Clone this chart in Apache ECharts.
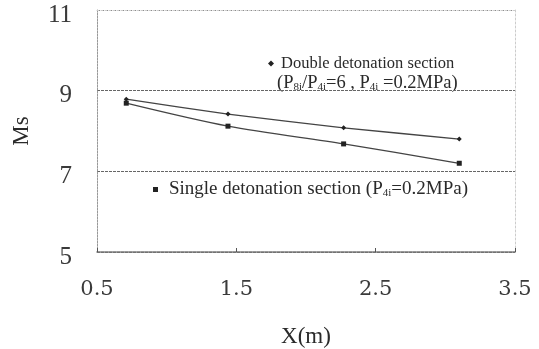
<!DOCTYPE html>
<html>
<head>
<meta charset="utf-8">
<script src="https://cdn.jsdelivr.net/npm/echarts@6/dist/echarts.min.js"></script>
<style>html,body{margin:0;padding:0;background:#fff}#c{width:539px;height:349px}</style>
</head>
<body>
<div id="c"></div>
<script>
const xValues = [0.71, 1.44, 2.27, 3.1];
const doubleMs = [8.79, 8.42, 8.08, 7.80];
const singleMs = [8.69, 8.12, 7.68, 7.20];
const xTicks = [0.5, 1.5, 2.5, 3.5];
const yTicks = [5, 7, 9, 11];
const doubleName = 'Double detonation section';
const singleName = 'Single detonation section (P4i=0.2MPa)';

const serif = 'Liberation Serif';
const txt = '#2a2a2a';
const subStyle = { fontSize: 11, fontFamily: serif, color: txt, verticalAlign: 'bottom', padding: [7, 0, 0, 0] };

const chart = echarts.init(document.getElementById('c'));
chart.setOption({
  animation: false,
  backgroundColor: '#fff',
  grid: { left: 97, right: 24, top: 10, bottom: 97, containLabel: false, outerBoundsMode: 'none' },
  xAxis: [{
    type: 'value', min: xTicks[0], max: xTicks[xTicks.length - 1], interval: 1,
    name: 'X(m)', nameLocation: 'middle', nameGap: 73,
    nameTextStyle: { fontFamily: serif, fontSize: 23, color: txt },
    axisLine: { show: true, lineStyle: { color: '#777', type: [3, 1], width: 1.5 } },
    axisTick: { show: true, inside: true, length: 4, lineStyle: { color: '#555' } },
    axisLabel: { margin: 27, fontFamily: 'DejaVu Serif', fontSize: 21, color: '#3a3a3a',
      formatter: v => v.toFixed(1) },
    splitLine: { show: false }
  }, {
    type: 'value', position: 'top', min: xTicks[0], max: xTicks[xTicks.length - 1], interval: 1,
    axisLine: { show: true, lineStyle: { color: '#ccc', type: [2, 2] } },
    axisTick: { show: false }, axisLabel: { show: false }, splitLine: { show: false }
  }],
  yAxis: [{
    type: 'value', min: yTicks[0], max: yTicks[yTicks.length - 1], interval: 2,
    name: 'Ms', nameLocation: 'middle', nameGap: 64, nameRotate: 90,
    nameTextStyle: { fontFamily: serif, fontSize: 23, color: txt },
    axisLine: { show: true, lineStyle: { color: '#999', type: [2, 1] } },
    axisTick: { show: false },
    axisLabel: { margin: 25, formatter: v => '{a|' + v + '}',
      rich: { a: { fontFamily: serif, fontSize: 25, color: '#3a3a3a', padding: [10, 0, 0, 0] } } },
    splitLine: { show: true, lineStyle: { color: '#666', type: [3, 1], width: 1 } }
  }, {
    type: 'value', position: 'right', min: yTicks[0], max: yTicks[yTicks.length - 1], interval: 2,
    axisLine: { show: true, lineStyle: { color: '#ccc', type: [2, 2] } },
    axisTick: { show: false }, axisLabel: { show: false }, splitLine: { show: false }
  }],
  legend: [{
    data: [doubleName], left: 268, top: 55, padding: 0,
    itemWidth: 6, itemHeight: 6, icon: 'diamond',
    textStyle: { fontFamily: serif, fontSize: 16.5, color: txt, padding: [0, 0, 0, 2] }
  }, {
    data: [singleName], left: 153, top: 180, padding: 0,
    itemWidth: 5, itemHeight: 5, icon: 'rect',
    formatter: () => 'Single detonation section (P{sub|4i}=0.2MPa)',
    textStyle: { fontFamily: serif, fontSize: 19, color: txt, padding: [0, 0, 0, 6], rich: { sub: subStyle } }
  }],
  graphic: [{
    type: 'text', left: 277, top: 74,
    style: {
      text: '(P{sub|8i}/P{sub|4i}=6 , P{sub|4i} =0.2MPa)',
      fontFamily: serif, fontSize: 18.5, fill: txt,
      rich: { sub: { fontSize: 11, fontFamily: serif, fill: txt, verticalAlign: 'bottom', padding: [7, 0, 0, 0] } }
    }
  }],
  series: [{
    name: doubleName, type: 'line', smooth: 0.2,
    data: xValues.map((x, i) => [x, doubleMs[i]]),
    symbol: 'diamond', symbolSize: 5,
    lineStyle: { color: '#444', width: 1.3 },
    itemStyle: { color: '#222' }
  }, {
    name: singleName, type: 'line', smooth: 0.3,
    data: xValues.map((x, i) => [x, singleMs[i]]),
    symbol: 'rect', symbolSize: 5,
    lineStyle: { color: '#444', width: 1.3 },
    itemStyle: { color: '#222' }
  }]
});
</script>
</body>
</html>
